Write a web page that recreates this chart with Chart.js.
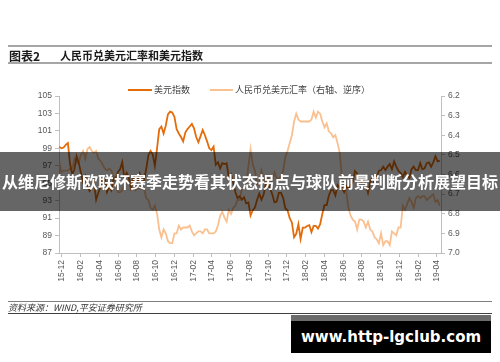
<!DOCTYPE html>
<html><head><meta charset="utf-8">
<script src="https://cdn.jsdelivr.net/npm/chart.js@4.4.1/dist/chart.umd.min.js"></script>
<style>
html,body{margin:0;padding:0;background:#fff;}
#wrap{position:relative;width:500px;height:362px;overflow:hidden;font-family:"Noto Sans CJK SC","Noto Sans",sans-serif;}
#c{position:absolute;left:0;top:0;}
.abs{position:absolute;white-space:nowrap;}
</style></head><body>
<div id="wrap">
<canvas id="c" width="500" height="362"></canvas>
<div class="abs" style="left:8px;top:45px;width:484px;height:2px;background:#A6A6A6"></div>
<div class="abs" style="left:9px;top:48px;height:15px;line-height:15px;font-size:12px;font-weight:bold;color:#1a1a1a">图表2</div>
<div class="abs" style="left:60px;top:48px;height:15px;line-height:15px;font-size:11px;font-weight:bold;color:#1a1a1a">人民币兑美元汇率和美元指数</div>
<div class="abs" style="left:8px;top:62px;width:484px;height:2px;background:#A6A6A6"></div>

<div class="abs" style="left:128px;top:89px;width:24px;height:2px;background:#E46C0A"></div>
<div class="abs" style="left:154px;top:84px;height:12px;line-height:12px;font-size:9px;color:#404040">美元指数</div>
<div class="abs" style="left:210px;top:89px;width:23px;height:2px;background:#FAC090"></div>
<div class="abs" style="left:235px;top:84px;height:12px;line-height:12px;font-size:9px;color:#404040">人民币兑美元汇率（右轴、逆序）</div>

<div class="abs" style="left:8px;top:301px;width:484px;height:1px;background:#7F7F7F"></div>
<div class="abs" style="left:8px;top:302px;height:12px;line-height:12px;font-size:9px;font-style:italic;color:#333">资料来源：WIND,平安证券研究所</div>
<div class="abs" style="left:8px;top:313px;width:484px;height:1px;background:#404040"></div>

<div class="abs" style="left:0;top:152px;width:500px;height:59px;background:rgba(0,0,0,0.6);color:#fff;font-weight:bold;font-size:16px;line-height:59px;text-align:center;letter-spacing:0">从维尼修斯欧联杯赛季走势看其状态拐点与球队前景判断分析展望目标</div>

<div class="abs" style="left:291px;top:315px;width:200px;height:32px;border-top:6px solid #6B6B6B;background:#000;color:#fff;font-family:'DejaVu Sans',sans-serif;font-weight:bold;font-size:15px;line-height:32px;text-align:center">www.http-lgclub.com</div>
</div>
<script>
// 美元指数 (weekly, left axis)
const USD_INDEX = [
99.2,99.0,99.1,99.4,99.6,97.2,96.0,96.6,98.1,97.3,96.2,95.1,95.8,94.6,94.1,94.6,95.1,93.1,93.9,94.6,95.3,95.5,
94.0,94.6,94.2,95.5,95.6,96.3,96.6,97.4,95.5,96.2,95.7,94.5,95.5,95.8,95.1,96.1,95.4,95.4,96.6,98.2,98.7,98.3,
97.0,99.0,101.2,101.5,100.7,101.6,102.9,103.2,103.1,102.6,101.2,100.7,100.3,99.8,100.8,101.2,101.5,101.8,101.3,
100.3,99.7,100.4,101.1,100.5,99.8,99.0,98.8,99.2,97.1,97.4,96.7,97.3,97.2,97.3,95.6,96.0,95.1,94.0,93.3,93.5,
93.1,93.4,92.7,92.8,91.3,91.9,92.2,93.1,93.8,93.1,93.7,94.9,94.9,94.4,93.7,92.8,92.9,93.9,93.9,93.3,92.1,
91.9,91.0,90.5,88.8,89.2,90.3,88.6,89.9,89.9,90.1,90.2,89.4,90.1,90.1,89.8,90.3,91.5,92.5,92.5,93.6,94.2,
94.2,93.6,94.8,94.5,94.5,94.0,94.7,94.4,94.7,95.2,96.4,96.1,95.2,95.1,95.4,94.9,93.9,95.1,95.6,95.0,95.7,96.4,
96.5,96.9,96.5,96.9,97.2,96.6,97.5,96.9,96.4,96.2,95.7,96.3,95.8,95.6,96.6,96.9,96.5,96.5,97.3,96.6,96.7,97.3,
97.4,96.9,97.4,98.1,97.5,97.6
];
// 人民币兑美元汇率 (weekly, right axis, reversed)
const USD_CNY = [
6.53,6.59,6.58,6.58,6.58,6.57,6.57,6.52,6.54,6.54,6.50,6.48,6.52,6.47,6.46,6.48,6.49,6.48,6.52,6.53,6.55,6.57,
6.58,6.57,6.58,6.61,6.65,6.69,6.69,6.68,6.65,6.64,6.63,6.64,6.66,6.68,6.67,6.67,6.67,6.67,6.72,6.73,6.77,6.78,
6.76,6.80,6.88,6.92,6.88,6.90,6.94,6.95,6.95,6.90,6.90,6.86,6.88,6.87,6.87,6.87,6.86,6.89,6.91,6.90,6.89,6.89,
6.90,6.88,6.88,6.90,6.90,6.90,6.89,6.86,6.81,6.79,6.82,6.84,6.78,6.80,6.77,6.76,6.73,6.73,6.67,6.67,6.65,
6.56,6.47,6.55,6.58,6.65,6.65,6.58,6.62,6.64,6.61,6.64,6.63,6.59,6.62,6.62,6.61,6.58,6.51,
6.48,6.44,6.40,6.33,6.29,6.32,6.33,6.33,6.33,6.33,6.33,6.32,6.28,6.31,6.28,6.29,6.33,6.36,6.34,6.38,6.39,
6.41,6.40,6.44,6.49,6.62,6.64,6.69,6.77,6.81,6.83,6.84,6.88,6.83,6.83,6.84,6.87,6.84,6.88,6.89,6.92,6.93,6.95,
6.90,6.96,6.94,6.94,6.96,6.89,6.90,6.91,6.87,6.87,6.76,6.78,6.75,6.72,6.74,6.77,6.72,6.71,6.72,6.71,6.71,6.73,
6.72,6.71,6.70,6.74,6.73,6.76
];
const TICK_LABELS = ['15-12','16-02','16-04','16-06','16-08','16-10','16-12','17-02','17-04','17-06','17-08',
'17-10','17-12','18-02','18-04','18-06','18-08','18-10','18-12','19-02','19-04'];
const LEFT_MIN = 87, LEFT_MAX = 105, LEFT_STEP = 2;
const RIGHT_MIN = 6.2, RIGHT_MAX = 7.0, RIGHT_STEP = 0.1;
const X_FIRST = -0.3, X_LAST = 40.3; // month offset from 15-12 tick of first/last weekly sample
const X_MIN = -0.32, X_MAX = 40.43;

const N = USD_INDEX.length;
const xs = USD_INDEX.map((_, i) => X_FIRST + i * (X_LAST - X_FIRST) / (N - 1));
const tickPos = TICK_LABELS.map((_, i) => i * 2);
const tickFont = {family: "'Liberation Sans', Arial, sans-serif", size: 8.5};
const axisColor = '#BFBFBF', labelColor = '#595959';

new Chart(document.getElementById('c'), {
  type: 'line',
  data: {
    datasets: [
      {label: '美元指数', data: USD_INDEX.map((v, i) => ({x: xs[i], y: v})), yAxisID: 'y',
       borderColor: '#E46C0A', borderWidth: 1.8, pointRadius: 0, tension: 0, fill: false},
      {label: '人民币兑美元汇率（右轴、逆序）', data: USD_CNY.map((v, i) => ({x: xs[i], y: v})), yAxisID: 'y1',
       borderColor: '#FAC090', borderWidth: 1.8, pointRadius: 0, tension: 0, fill: false}
    ]
  },
  options: {
    responsive: false, animation: false, devicePixelRatio: 1,
    layout: {padding: {left: 0, right: 0, top: 96, bottom: 0}},
    plugins: {legend: {display: false}, tooltip: {enabled: false}, title: {display: false}},
    scales: {
      x: {
        type: 'linear', position: 'bottom', min: X_MIN, max: X_MAX,
        afterBuildTicks: s => { s.ticks = tickPos.map(v => ({value: v})); },
        afterFit: s => { s.height = 109; },
        grid: {drawOnChartArea: false, drawTicks: true, tickLength: 4, color: axisColor},
        border: {color: axisColor, width: 1},
        ticks: {autoSkip: false, minRotation: 90, maxRotation: 90, padding: 3, color: labelColor, font: tickFont,
          callback: v => TICK_LABELS[tickPos.indexOf(v)]}
      },
      y: {
        position: 'left', min: LEFT_MIN, max: LEFT_MAX,
        afterFit: s => { s.width = 59; },
        grid: {drawOnChartArea: false, drawTicks: true, tickLength: 4, color: axisColor},
        border: {color: axisColor, width: 1},
        ticks: {stepSize: LEFT_STEP, padding: 3, color: labelColor, font: tickFont}
      },
      y1: {
        position: 'right', min: RIGHT_MIN, max: RIGHT_MAX, reverse: true,
        afterFit: s => { s.width = 59; },
        grid: {drawOnChartArea: false, drawTicks: true, tickLength: 4, color: axisColor},
        border: {color: axisColor, width: 1},
        ticks: {stepSize: RIGHT_STEP, padding: 3, color: labelColor, font: tickFont,
          callback: v => Number(v).toFixed(1)}
      }
    }
  }
});
</script>
</body></html>
